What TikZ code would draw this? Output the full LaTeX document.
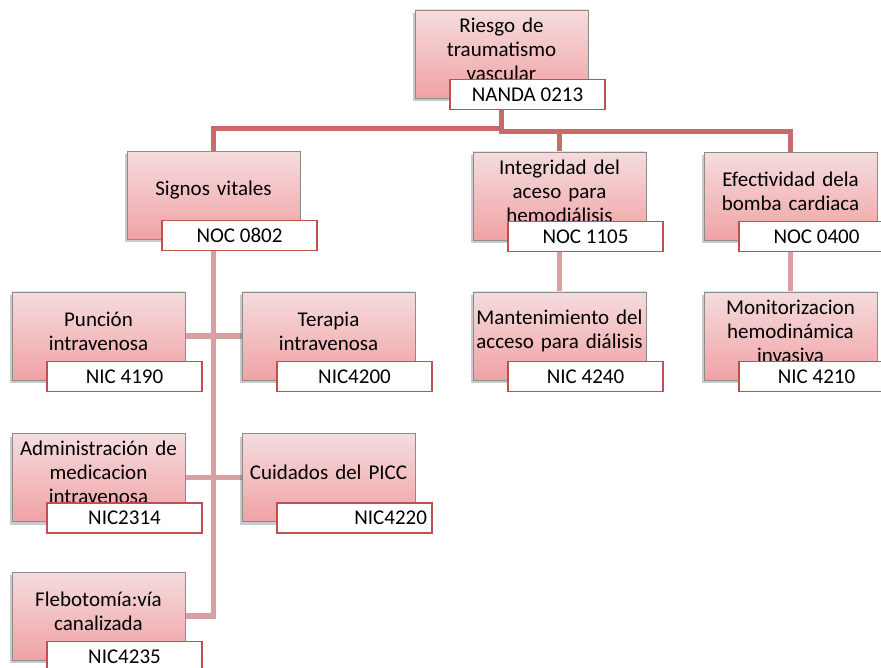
\documentclass[tikz,border=0pt]{standalone}
\usepackage{fontspec}
\setmainfont{Carlito}
\usetikzlibrary{positioning, shadows, backgrounds}
\definecolor{boxtop}{HTML}{F5DCDD}
\definecolor{boxbottom}{HTML}{F0A2A5}
\definecolor{boxline}{HTML}{8C8C8C}
\definecolor{codeline}{HTML}{C0504D}
\definecolor{trunkcolor}{HTML}{C96A6D}
\definecolor{branchcolor}{HTML}{D8A0A2}

\begin{document}
\begin{tikzpicture}[x=1pt, y=-1pt,
  ficha/.style={rectangle, draw=boxline, line width=0.8pt, top color=boxtop, bottom color=boxbottom,
                minimum width=173pt, minimum height=88pt, text width=170pt, align=center,
                inner sep=0pt, execute at end node={\endgraf\vskip10pt\hrule height0pt width0pt},
                drop shadow={shadow xshift=-2pt, shadow yshift=-3pt, opacity=0.35, fill=black!60}},
  codigo/.style={rectangle, draw=codeline, line width=1.2pt, fill=white,
                 minimum width=155pt, minimum height=30pt, inner sep=2pt},
  trunk/.style={draw=trunkcolor, line width=5pt},
  branch/.style={draw=branchcolor, line width=5.5pt},
  every node/.style={font=\fontsize{21}{24}\selectfont}
]
  \clip (0,0) rectangle (881,668);

  \node[ficha] (riesgo) at (501.5,54) {Riesgo de\\traumatismo\\vascular};
  \node[codigo] (nanda) at ([xshift=26pt,yshift=4pt]riesgo.south) {NANDA 0213};

  \node[ficha] (signos) at (213.5,195.5) {Signos vitales};
  \node[codigo] (noc802) at ([xshift=26pt,yshift=4pt]signos.south) {NOC 0802};
  \node[ficha] (integridad) at (559.5,196) {Integridad del\\aceso para\\hemodiálisis};
  \node[codigo] (noc1105) at ([xshift=26pt,yshift=4pt]integridad.south) {NOC 1105};
  \node[ficha] (efectividad) at (790.5,196.5) {Efectividad dela\\bomba cardiaca};
  \node[codigo] (noc400) at ([xshift=26pt,yshift=4pt]efectividad.south) {NOC 0400};

  \node[ficha] (puncion) at (98.5,336) {Punción\\intravenosa};
  \node[codigo] (nic4190) at ([xshift=26pt,yshift=4pt]puncion.south) {NIC 4190};
  \node[ficha] (terapia) at (328.5,336) {Terapia\\intravenosa};
  \node[codigo] (nic4200) at ([xshift=26pt,yshift=4pt]terapia.south) {NIC4200};
  \node[ficha] (admin) at (98.5,477.5) {Administración de\\medicacion\\intravenosa};
  \node[codigo] (nic2314) at ([xshift=26pt,yshift=4pt]admin.south) {NIC2314};
  \node[ficha] (picc) at (328.5,477.5) {Cuidados del PICC};
  \node[codigo, text width=145pt, align=right] (nic4220) at ([xshift=26pt,yshift=4pt]picc.south) {NIC4220};
  \node[ficha] (flebo) at (98.5,616) {Flebotomía:vía\\canalizada};
  \node[codigo] (nic4235) at ([xshift=26pt,yshift=4pt]flebo.south) {NIC4235};

  \node[ficha] (mantenim) at (559.5,336) {Mantenimiento del\\acceso para diálisis};
  \node[codigo] (nic4240) at ([xshift=26pt,yshift=4pt]mantenim.south) {NIC 4240};
  \node[ficha] (monitor) at (790.5,336) {Monitorizacion\\hemodinámica\\invasiva};
  \node[codigo] (nic4210) at ([xshift=26pt,yshift=4pt]monitor.south) {NIC 4210};

  \begin{scope}[on background layer]
    \draw[trunk] (riesgo.south) -- ++(0,30) -| (signos.north);
    \draw[trunk] (riesgo.south) -- ++(0,33) -| (integridad.north);
    \draw[trunk] (riesgo.south) -- ++(0,33) -| (efectividad.north);

    \draw[branch] (signos.south) |- (flebo.east);
    \draw[branch] (puncion.east) -- (terapia.west);
    \draw[branch] (admin.east) -- (picc.west);
    \draw[branch] (integridad.south) -- (mantenim.north);
    \draw[branch] (efectividad.south) -- (monitor.north);
  \end{scope}
\end{tikzpicture}
\end{document}
